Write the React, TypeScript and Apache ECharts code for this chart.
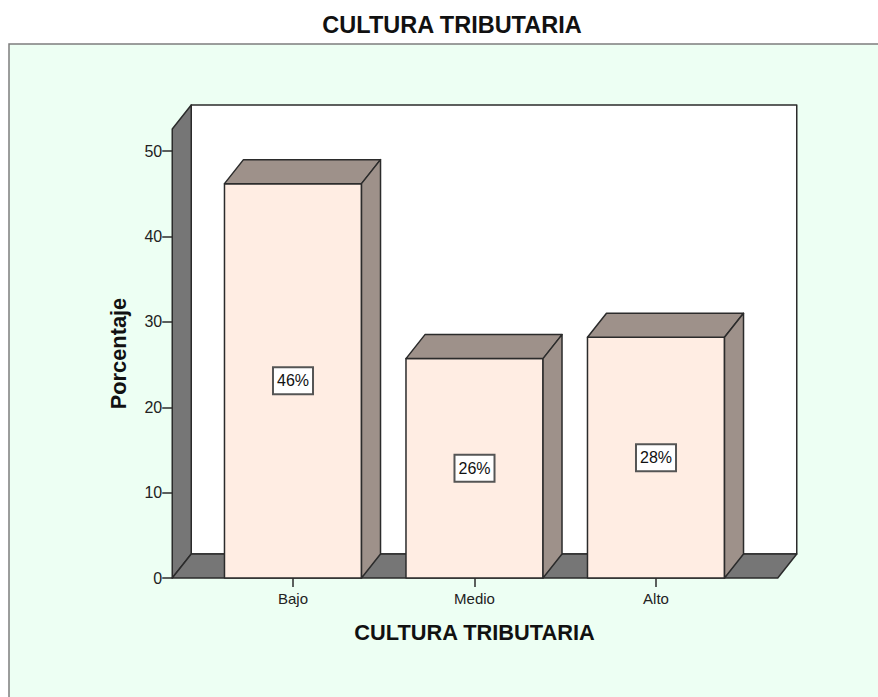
import React, { useEffect, useRef } from "react";
import * as echarts from "echarts";

const title = "CULTURA TRIBUTARIA";
const categories = ["Bajo", "Medio", "Alto"];
const percentages = [46.2, 25.7, 28.2];
const barLabels = ["46%", "26%", "28%"];
const yTicks = [0, 10, 20, 30, 40, 50];
const yName = "Porcentaje";
const font = "'Liberation Sans', Arial, sans-serif";

const GRID_LEFT = 202.25;
const GRID_WIDTH = 544.5;
const GRID_TOP = 129;
const GRID_HEIGHT = 449;
const WALL_PAD = 30;
const DX = 19;
const DY = 24;
const LINE = "#2b2b2b";

function poly(points: number[][], fill: string) {
  return {
    type: "polygon",
    shape: { points },
    style: { fill, stroke: LINE, lineWidth: 1.5, lineJoin: "round" },
  };
}

export default function App() {
  const ref = useRef<HTMLDivElement>(null);
  useEffect(() => {
    const chart = echarts.init(ref.current!, undefined, { renderer: "svg" });
    chart.setOption({
      animation: false,
      backgroundColor: "#ffffff",
      textStyle: { fontFamily: font },
      title: {
        text: title,
        left: 447,
        top: 8,
        textAlign: "center",
        textStyle: { fontFamily: font, fontSize: 23.5, fontWeight: "bold", color: "#111" },
      },
      graphic: [
        {
          type: "rect",
          z: -10,
          silent: true,
          shape: { x: 9, y: 44, width: 880, height: 670 },
          style: { fill: "#EDFFF3", stroke: "#7d7d7d", lineWidth: 1.5 },
        },
      ],
      grid: { left: GRID_LEFT, top: GRID_TOP, width: GRID_WIDTH, height: GRID_HEIGHT },
      xAxis: {
        type: "category",
        data: categories,
        name: title,
        nameLocation: "middle",
        nameGap: 43,
        nameTextStyle: { fontFamily: font, fontSize: 21.8, fontWeight: "bold", color: "#111" },
        axisLine: { show: false },
        axisTick: { show: true, alignWithLabel: true, length: 9, lineStyle: { color: LINE, width: 1.5 } },
        axisLabel: { fontFamily: font, fontSize: 15, color: "#222", margin: 13 },
      },
      yAxis: {
        type: "value",
        min: 0,
        max: 52.6,
        interval: 10,
        offset: WALL_PAD,
        name: yName,
        nameLocation: "middle",
        nameRotate: 90,
        nameGap: 43,
        nameTextStyle: { fontFamily: font, fontSize: 21.8, fontWeight: "bold", color: "#111" },
        axisLine: { show: false },
        axisTick: { show: true, length: 10, customValues: yTicks, lineStyle: { color: LINE, width: 1.5 } },
        axisLabel: { fontFamily: font, fontSize: 16, color: "#222", margin: 10, customValues: yTicks },
        splitLine: { show: false },
      },
      series: [
        {
          type: "custom",
          z: 1,
          silent: true,
          clip: false,
          data: [[0, 0]],
          encode: { x: 0, y: 1 },
          renderItem: (_p: any, api: any) => {
            const y0 = api.coord([0, 0])[1];
            const yT = api.coord([0, 52.6])[1];
            const xL = GRID_LEFT - WALL_PAD;
            const xR = GRID_LEFT + GRID_WIDTH + WALL_PAD + 1;
            return {
              type: "group",
              children: [
                poly([[xL + DX, yT - DY], [xR + DX, yT - DY], [xR + DX, y0 - DY], [xL + DX, y0 - DY]], "#ffffff"),
                poly([[xL, y0], [xL, yT], [xL + DX, yT - DY], [xL + DX, y0 - DY]], "#767676"),
                poly([[xL, y0], [xR, y0], [xR + DX, y0 - DY], [xL + DX, y0 - DY]], "#767676"),
              ],
            };
          },
        },
        {
          type: "custom",
          z: 3,
          silent: true,
          clip: false,
          data: percentages.map((v, i) => [i, v]),
          encode: { x: 0, y: 1 },
          renderItem: (p: any, api: any) => {
            const c = api.coord([api.value(0), api.value(1)]);
            const y0 = api.coord([api.value(0), 0])[1];
            const w = api.size([1, 0])[0] * 0.755;
            const l = c[0] - w / 2;
            const r = c[0] + w / 2;
            const t = c[1];
            return {
              type: "group",
              children: [
                poly([[l, t], [r, t], [r, y0], [l, y0]], "#FFEDE3"),
                poly([[l, t], [l + DX, t - DY], [r + DX, t - DY], [r, t]], "#9E918A"),
                poly([[r, t], [r + DX, t - DY], [r + DX, y0 - DY], [r, y0]], "#9E918A"),
                {
                  type: "text",
                  x: c[0],
                  y: (t + y0) / 2,
                  style: {
                    text: barLabels[p.dataIndex],
                    fontFamily: font,
                    fontSize: 16,
                    fill: "#111",
                    align: "center",
                    verticalAlign: "middle",
                    backgroundColor: "#ffffff",
                    borderColor: "#555",
                    borderWidth: 2,
                    padding: [5, 3, 4, 3],
                  },
                },
              ],
            };
          },
        },
      ],
    });
    return () => chart.dispose();
  }, []);
  return <div ref={ref} style={{ position: "fixed", left: 0, top: 0, width: 878, height: 697 }} />;
}
